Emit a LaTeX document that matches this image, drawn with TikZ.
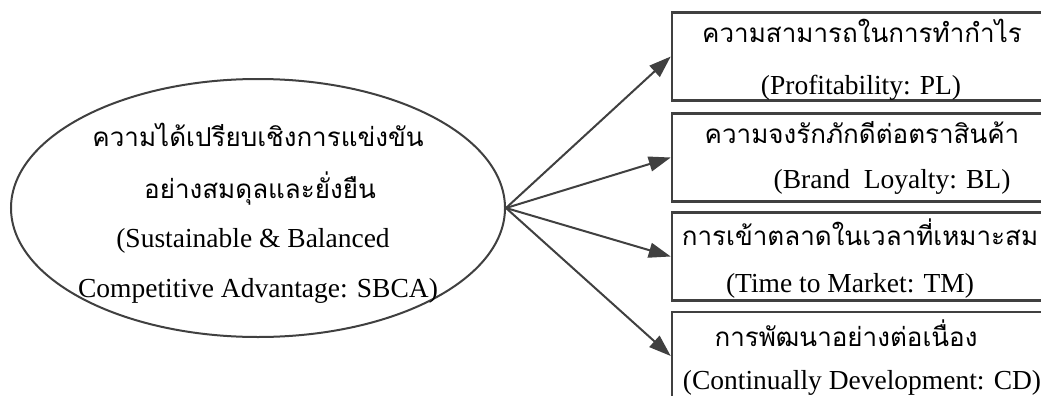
\documentclass[tikz,border=0pt]{standalone}
\usepackage{fontspec}
\setmainfont{Liberation Serif}
\newfontfamily\thaifont[Script=Thai]{Loma}
\usetikzlibrary{shapes.geometric,arrows.meta}
\definecolor{ink}{HTML}{404040}
\tikzset{
  latin/.style={anchor=base, inner sep=0pt, font=\fontsize{27.5}{34}\selectfont},
  thai/.style={anchor=base, inner sep=0pt, font=\thaifont\fontsize{26}{34}\selectfont},
  goal/.style={draw=ink, line width=2pt, ellipse, minimum width=494pt,
    minimum height=258pt, inner sep=0pt},
  factor/.style={draw=ink, line width=2.5pt, rectangle, minimum width=380pt,
    minimum height=88pt, inner sep=0pt},
  link/.style={draw=ink, line width=2pt, -{Triangle[length=22pt,width=15pt]}},
}
\begin{document}
\begin{tikzpicture}[x=1pt,y=-1pt]
\clip (0,0) rectangle (1041,396);
\fill[white] (0,0) rectangle (1041,396);

% central construct
\node[goal] (sbca) at (258,208) {};
\node[thai]  (sbca1) at (258,146) {ความได้เปรียบเชิงการแข่งขัน};
\node[thai]  (sbca2) at (260,198) {อย่างสมดุลและยั่งยืน};
\node[latin] (sbca3) at (253,247) {(Sustainable \& Balanced};
\node[latin] (sbca4) at (258,297) {Competitive Advantage: SBCA)};

% the four dimensions
\node[factor] (pl) at (862,56.5) {};
\node[thai]  (pl1) at (862,43) {ความสามารถในการทำกำไร};
\node[latin] (pl2) at (861,94) {(Profitability: PL)};

\node[factor] (bl) at (862,157.5) {};
\node[thai]  (bl1) at (862,143) {ความจงรักภักดีต่อตราสินค้า};
\node[latin] (bl2) at (892,188) {(Brand~ Loyalty: BL)};

\node[factor] (tm) at (862,256.5) {};
\node[thai]  (tm1) at (860,245) {การเข้าตลาดในเวลาที่เหมาะสม};
\node[latin] (tm2) at (850,292) {(Time to Market: TM)};

\node[factor] (cd) at (862,356) {};
\node[thai]  (cd1) at (846,346) {การพัฒนาอย่างต่อเนื่อง};
\node[latin] (cd2) at (862,389) {(Continually Development: CD)};

% connectors
\draw[link] (sbca.east) -- (pl.west);
\draw[link] (sbca.east) -- (bl.west);
\draw[link] (sbca.east) -- (tm.west);
\draw[link] (sbca.east) -- (cd.west);
\end{tikzpicture}
\end{document}
